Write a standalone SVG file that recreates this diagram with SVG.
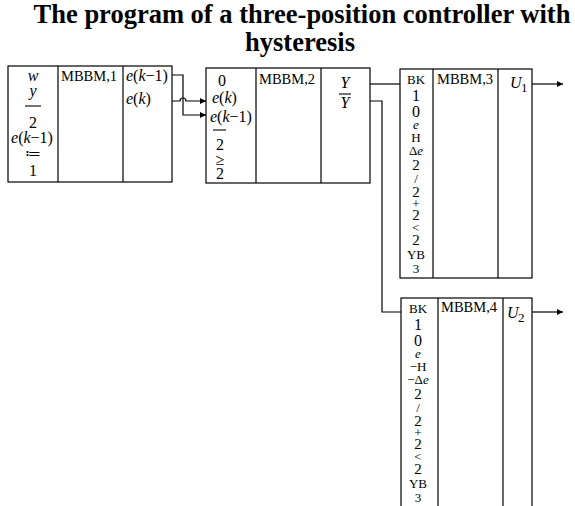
<svg xmlns="http://www.w3.org/2000/svg" width="575" height="506" viewBox="0 0 575 506">
  <defs>
    <marker id="arrow" viewBox="0 0 10 10" refX="10" refY="5" markerWidth="9" markerHeight="6" markerUnits="userSpaceOnUse" orient="auto">
      <path d="M0,0 L10,5 L0,10 Z" fill="#000"/>
    </marker>
    <style>
      .box { fill: #fff; stroke: #000; stroke-width: 1.2; }
      .div { stroke: #000; stroke-width: 1.2; }
      .wire { fill: none; stroke: #000; stroke-width: 1.2; }
      .bar { stroke: #000; stroke-width: 1.1; }
      text { font-family: "Liberation Serif", "Times New Roman", serif; fill: #000; }
      .title { font-size: 26.5px; font-weight: bold; text-anchor: middle; }
      .name { font-size: 14.5px; }
      .sym { font-size: 16px; }
      .it { font-style: italic; }
      .c { text-anchor: middle; }
      .sm { font-size: 13px; }
      .md { font-size: 15px; }
    </style>
  </defs>

  <text class="title" x="302" y="23">The program of a three-position controller with</text>
  <text class="title" x="300" y="51">hysteresis</text>

  <!-- Block 1 -->
  <g id="block1">
    <rect class="box" x="8" y="66" width="164" height="116"/>
    <line class="div" x1="58" y1="66" x2="58" y2="182"/>
    <line class="div" x1="123" y1="66" x2="123" y2="182"/>
    <text class="sym it c" x="33" y="81">w</text>
    <text class="sym it c" x="33" y="96">y</text>
    <line class="bar" x1="25" y1="106" x2="41" y2="106"/>
    <text class="sym c" x="33" y="128">2</text>
    <text class="sym c" x="32" y="143"><tspan class="it">e</tspan>(<tspan class="it">k</tspan>−1)</text>
    <text class="sym c" x="33" y="159">≔</text>
    <text class="sym c" x="33" y="176">1</text>
    <text class="name" x="61" y="81">MBBM,1</text>
    <text class="sym" x="126" y="81"><tspan class="it">e</tspan>(<tspan class="it">k</tspan>−1)</text>
    <text class="sym" x="126" y="104"><tspan class="it">e</tspan>(<tspan class="it">k</tspan>)</text>
  </g>

  <!-- Block 2 -->
  <g id="block2">
    <rect class="box" x="206" y="68" width="164" height="115"/>
    <line class="div" x1="256" y1="68" x2="256" y2="183"/>
    <line class="div" x1="321" y1="68" x2="321" y2="183"/>
    <text class="sym c" x="222" y="86">0</text>
    <text class="sym" x="212" y="103"><tspan class="it">e</tspan>(<tspan class="it">k</tspan>)</text>
    <text class="sym" x="210" y="122"><tspan class="it">e</tspan>(<tspan class="it">k</tspan>−1)</text>
    <line class="bar" x1="213" y1="130" x2="226" y2="130"/>
    <text class="sym c" x="220" y="150">2</text>
    <text class="sym c" x="220" y="165">≥</text>
    <text class="sym c" x="220" y="179">2</text>
    <text class="name" x="259" y="84">MBBM,2</text>
    <text class="sym it c" x="345" y="88">Y</text>
    <line class="bar" x1="339" y1="94" x2="351" y2="94"/>
    <text class="sym it c" x="345" y="108">Y</text>
  </g>

  <!-- Block 3 -->
  <g id="block3">
    <rect class="box" x="400" y="69" width="132" height="209"/>
    <line class="div" x1="433" y1="69" x2="433" y2="278"/>
    <line class="div" x1="498" y1="69" x2="498" y2="278"/>
    <text class="sm c" x="416" y="84">BK</text>
    <text class="sym c" x="416" y="101">1</text>
    <text class="sym c" x="416" y="117">0</text>
    <text class="sm it c" x="416" y="129">e</text>
    <text class="sm c" x="416" y="142">H</text>
    <text class="sm c" x="416" y="155">Δ<tspan class="it">e</tspan></text>
    <text class="md c" x="416" y="170">2</text>
    <text class="sm c" x="416" y="183">/</text>
    <text class="md c" x="416" y="197">2</text>
    <text class="sm c" x="416" y="208">+</text>
    <text class="md c" x="416" y="220">2</text>
    <text class="sm c" x="416" y="232">&lt;</text>
    <text class="md c" x="416" y="245">2</text>
    <text class="sm c" x="416" y="259">YB</text>
    <text class="sm c" x="416" y="273">3</text>
    <text class="name" x="437" y="84">MBBM,3</text>
    <text class="sym it" x="510" y="88">U</text>
    <text class="sm" x="521" y="92">1</text>
  </g>

  <!-- Block 4 -->
  <g id="block4">
    <rect class="box" x="401" y="298" width="131" height="230"/>
    <line class="div" x1="438" y1="298" x2="438" y2="528"/>
    <line class="div" x1="503" y1="298" x2="503" y2="528"/>
    <text class="sm c" x="418" y="313">BK</text>
    <text class="sym c" x="418" y="330">1</text>
    <text class="sym c" x="418" y="346">0</text>
    <text class="sm it c" x="418" y="358">e</text>
    <text class="sm c" x="418" y="371">−H</text>
    <text class="sm c" x="418" y="384">−Δ<tspan class="it">e</tspan></text>
    <text class="md c" x="418" y="399">2</text>
    <text class="sm c" x="418" y="412">/</text>
    <text class="md c" x="418" y="426">2</text>
    <text class="sm c" x="418" y="437">+</text>
    <text class="md c" x="418" y="449">2</text>
    <text class="sm c" x="418" y="461">&lt;</text>
    <text class="md c" x="418" y="474">2</text>
    <text class="sm c" x="418" y="488">YB</text>
    <text class="sm c" x="418" y="502">3</text>
    <text class="name" x="441" y="312">MBBM,4</text>
    <text class="sym it" x="507" y="318">U</text>
    <text class="sm" x="518" y="322">2</text>
  </g>

  <!-- Connectors -->
  <g id="connectors">
    <!-- e(k-1) crosses down to the second input -->
    <path class="wire" d="M172,75 H183 V115 H206" marker-end="url(#arrow)"/>
    <!-- e(k) hops over the vertical wire -->
    <path class="wire" d="M172,101 H180 A3,3 0 0 1 186,101 H206" marker-end="url(#arrow)"/>
    <!-- Y to block 3 -->
    <path class="wire" d="M370,84 H400"/>
    <!-- Y-bar to block 4 -->
    <path class="wire" d="M370,101 H382 V312 H401"/>
    <!-- outputs -->
    <path class="wire" d="M532,84 H563" marker-end="url(#arrow)"/>
    <path class="wire" d="M532,312 H563" marker-end="url(#arrow)"/>
  </g>
</svg>
